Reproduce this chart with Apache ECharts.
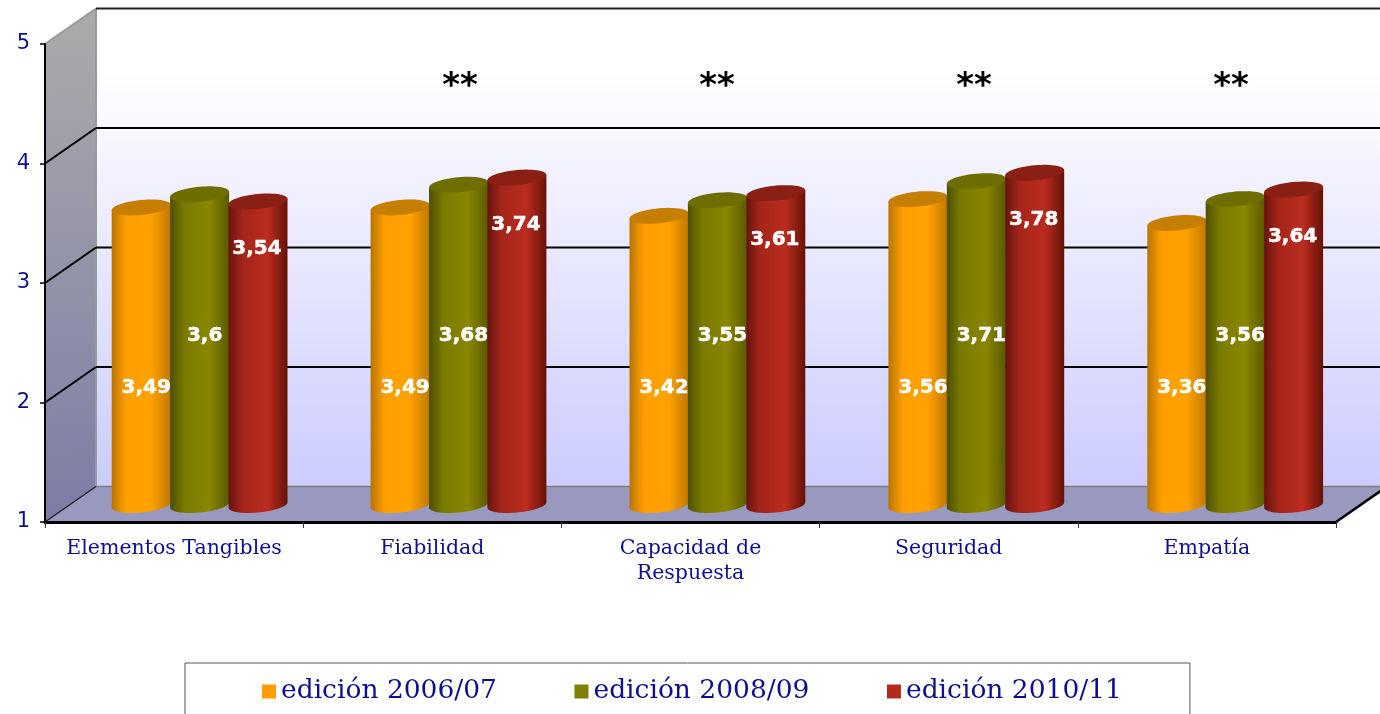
<!DOCTYPE html>
<html><head><meta charset="utf-8">
<style>html,body{margin:0;padding:0;background:#fff}#c{width:1380px;height:714px}</style>
<script src="https://cdn.jsdelivr.net/npm/echarts@6/dist/echarts.min.js"></script>
</head><body><div id="c"></div>
<script>
const categories = ['Elementos Tangibles', 'Fiabilidad', 'Capacidad de\nRespuesta', 'Seguridad', 'Empatía'];
const edicion0607 = [3.49, 3.49, 3.42, 3.56, 3.36];
const edicion0809 = [3.6, 3.68, 3.55, 3.71, 3.56];
const edicion1011 = [3.54, 3.74, 3.61, 3.78, 3.64];
const stars = ['', '**', '**', '**', '**'];
const yTicks = [1, 2, 3, 4, 5];

const NAVY = '#10108c', SERIF = '"DejaVu Serif", serif', SANS = '"DejaVu Sans", sans-serif';
const DX = 51, DY = -35.5;           // depth of the 3D box
const MX = 25.5, MY = -17;           // bars stand half-way into the box
const RX = 29.5, RY = 7.5, SHEAR = -0.09, STEP = 58.4, DRIFT = 0.7;

function grad(a, b, c, d) {
  return { type: 'linear', x: 0, y: 0, x2: 1, y2: 0, colorStops: [
    { offset: 0, color: a }, { offset: 0.24, color: b }, { offset: 0.66, color: c }, { offset: 1, color: d }] };
}
function ell(cx, cy, from, to, n) {
  const pts = [];
  for (let i = 0; i <= n; i++) {
    const t = from + (to - from) * i / n, ex = RX * Math.cos(t);
    pts.push([cx + ex, cy + RY * Math.sin(t) + SHEAR * ex]);
  }
  return pts;
}
function cylinder(idx, body, cap, labelAt) {
  return function (params, api) {
    const top = api.coord([api.value(0), api.value(1)]);
    const base = api.coord([api.value(0), 1]);
    const cx = top[0] + MX + (idx - 1) * STEP + api.value(0) * DRIFT;
    const ty = top[1] + MY, by = base[1] + MY;
    const sidePts = [[cx + RX, ty + SHEAR * RX]].concat(ell(cx, by, 0, Math.PI, 40), [[cx - RX, ty - SHEAR * RX]]);
    const children = [
      { type: 'polygon', shape: { points: sidePts }, style: { fill: body } },
      { type: 'polygon', shape: { points: ell(cx, ty, 0, Math.PI * 2, 60) }, style: { fill: cap } },
      { type: 'text', style: {
          x: cx + labelAt.dx, y: labelAt.fromTop != null ? ty + labelAt.fromTop : api.coord([0, labelAt.value])[1],
          text: String(api.value(1)).replace('.', ','), fill: '#fff', stroke: '#fff', lineWidth: 0.5,
          font: 'bold 20px ' + SANS, textAlign: 'center', textVerticalAlign: 'middle' } }
    ];
    return { type: 'group', children };
  };
}
function walls(params, api) {
  const g = params.coordSys, L = g.x, R = g.x + g.width, T = g.y, B = g.y + g.height;
  const ch = [];
  ch.push({ type: 'rect', shape: { x: L + DX, y: T + DY, width: g.width, height: g.height },
    style: { fill: { type: 'linear', x: 0, y: 0, x2: 0, y2: 1, colorStops: [
      { offset: 0, color: '#ffffff' }, { offset: 0.12, color: '#ffffff' }, { offset: 1, color: '#ccccff' }] } } });
  ch.push({ type: 'polygon', shape: { points: [[L, T], [L + DX, T + DY], [L + DX, B + DY], [L, B]] },
    style: { fill: { type: 'linear', x: 0, y: 0, x2: 0.25, y2: 1, colorStops: [
      { offset: 0, color: '#ababab' }, { offset: 1, color: '#7c7ca6' }] } } });
  ch.push({ type: 'polygon', shape: { points: [[L, B], [L + DX, B + DY], [R + DX, B + DY], [R, B]] },
    style: { fill: '#9999c0' } });
  ch.push({ type: 'line', shape: { x1: L + DX, y1: T + DY, x2: L + DX, y2: B + DY }, style: { stroke: '#999', lineWidth: 2 } });
  ch.push({ type: 'line', shape: { x1: L + DX, y1: B + DY, x2: R + DX, y2: B + DY }, style: { stroke: '#808080', lineWidth: 1.5 } });
  ch.push({ type: 'line', shape: { x1: L, y1: T, x2: L + DX, y2: T + DY }, style: { stroke: '#999', lineWidth: 2 } });
  ch.push({ type: 'line', shape: { x1: L, y1: B, x2: L + DX, y2: B + DY }, style: { stroke: '#222', lineWidth: 1.5 } });
  ch.push({ type: 'line', shape: { x1: R, y1: B, x2: R + DX, y2: B + DY }, style: { stroke: '#000', lineWidth: 2.5 } });
  yTicks.slice(1).forEach(function (v) {
    const y = api.coord([0, v])[1];
    ch.push({ type: 'line', shape: { x1: L + DX, y1: y + DY, x2: R + DX, y2: y + DY }, style: { stroke: v === 5 ? '#222' : '#000', lineWidth: 2 } });
    if (v !== 5) ch.push({ type: 'line', shape: { x1: L, y1: y, x2: L + DX, y2: y + DY }, style: { stroke: '#000', lineWidth: 2 } });
  });
  return { type: 'group', children: ch };
}
function starItem(params, api) {
  const i = api.value(0);
  const p = api.coord([i, 4.64]);
  return { type: 'text', style: { x: p[0] + 29 - i * 1.2, y: p[1], text: stars[i], fill: '#000',
    font: 'bold 34px ' + SANS, textAlign: 'center', textVerticalAlign: 'middle' } };
}
const rows = v => v.map((y, i) => [i, y]);
const chart = echarts.init(document.getElementById('c'), null, { renderer: 'canvas' });
chart.setOption({
  animation: false,
  backgroundColor: '#fff',
  grid: { left: 45, top: 44, width: 1291, height: 478 },
  legend: {
    data: ['edición 2006/07', 'edición 2008/09', 'edición 2010/11'],
    left: 185, top: 663, orient: 'horizontal', icon: 'rect',
    itemWidth: 14, itemHeight: 14, itemGap: 77.5, padding: [15, 68, 22, 77],
    borderColor: '#555', borderWidth: 1, backgroundColor: '#fff',
    selectedMode: false,
    textStyle: { color: NAVY, fontFamily: SERIF, fontSize: 26.5 }
  },
  xAxis: {
    type: 'category', data: categories, z: 2,
    axisLine: { lineStyle: { color: '#000', width: 3 } },
    axisTick: { show: true, length: 6, alignWithLabel: false, lineStyle: { color: '#333', width: 1 } },
    axisLabel: { interval: 0, color: NAVY, fontFamily: SERIF, fontSize: 20.5, lineHeight: 25, margin: 14 }
  },
  yAxis: {
    type: 'value', min: 1, max: 5, interval: 1, z: 2,
    splitLine: { show: false },
    axisLine: { show: true, lineStyle: { color: '#000', width: 2 } },
    axisTick: { show: true, length: 5, lineStyle: { color: '#000', width: 1.5 } },
    axisLabel: { color: NAVY, fontFamily: SANS, fontSize: 21, margin: 15, padding: [3, 0, 0, 0] }
  },
  series: [
    { type: 'custom', name: 'walls', z: 1, silent: true, data: [[0, 1]], encode: { x: 0, y: 1 }, renderItem: walls },
    { type: 'custom', name: 'edición 2006/07', z: 3, itemStyle: { color: '#ff9c00' }, data: rows(edicion0607), encode: { x: 0, y: 1 },
      renderItem: cylinder(0, grad('#b87400', '#ff9e00', '#ffa200', '#c07800'), '#c67e00', { dx: 5, value: 2.12 }) },
    { type: 'custom', name: 'edición 2008/09', z: 4, itemStyle: { color: '#808000' }, data: rows(edicion0809), encode: { x: 0, y: 1 },
      renderItem: cylinder(1, grad('#4c5000', '#7a7a00', '#8a8600', '#5a5a00'), '#6e6e00', { dx: 5, value: 2.56 }) },
    { type: 'custom', name: 'edición 2010/11', z: 5, itemStyle: { color: '#b22a1e' }, data: rows(edicion1011), encode: { x: 0, y: 1 },
      renderItem: cylinder(2, grad('#661410', '#a52519', '#bb2c20', '#661208'), '#8a1f14', { dx: -1, fromTop: 47 }) },
    { type: 'custom', name: 'stars', z: 6, silent: true, data: stars.map((s, i) => [i, 4.5]), encode: { x: 0, y: 1 }, renderItem: starItem }
  ]
});
</script></body></html>
